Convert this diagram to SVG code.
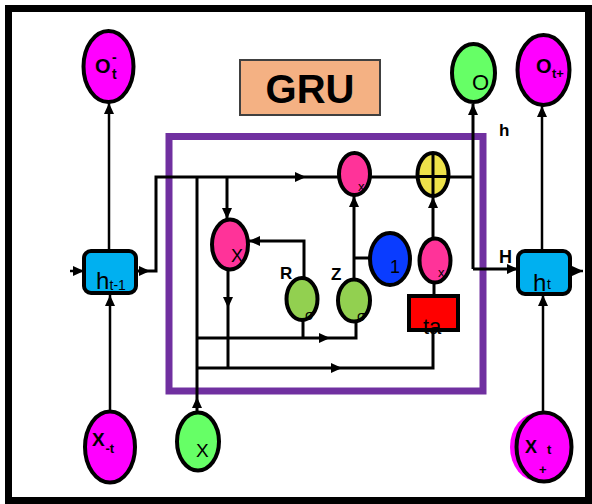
<svg xmlns="http://www.w3.org/2000/svg" width="592" height="504" viewBox="0 0 592 504">
<defs>
<marker id="ar" markerUnits="userSpaceOnUse" markerWidth="11" markerHeight="10" refX="11" refY="5" orient="auto">
<path d="M0,0 L11,5 L0,10 Z" fill="#000"/>
</marker>
<path id="ah" d="M0,0 L-11,-5 L-11,5 Z" fill="#000"/>
<style>
.ln{fill:none;stroke:#000;stroke-width:3}
.lo{fill:none;stroke:#000;stroke-width:2.5}
.nd{stroke:#000;stroke-width:4}
.t{font-family:"Liberation Sans",Arial,sans-serif;fill:#000}
.b{font-weight:bold}
</style>
</defs>
<rect x="0" y="0" width="592" height="504" fill="#fff"/>
<rect x="8.5" y="8.5" width="580" height="492" fill="#fff" stroke="#000" stroke-width="7"/>
<rect x="169" y="136.5" width="314" height="254.5" fill="none" stroke="#7030A0" stroke-width="7"/>
<g id="gru-title">
<rect x="240" y="60" width="140" height="55" fill="#F4B183" stroke="#404040" stroke-width="2"/>
<text class="t b" x="310" y="103" font-size="40" text-anchor="middle">GRU</text>
</g>
<g id="connectors">
<path class="lo" d="M109,251 V103" marker-end="url(#ar)"/>
<path class="lo" d="M110,411 V295" marker-end="url(#ar)"/>
<path class="lo" d="M70,271 H84" marker-end="url(#ar)"/>
<path class="ln" d="M136,271 H156 V177 H340"/>
<use href="#ah" transform="translate(150,271)"/>
<use href="#ah" transform="translate(306,177)"/>
<path class="ln" d="M370,177 H417"/>
<path class="ln" d="M448,177 H473"/>
<path class="ln" d="M473,269 V104" marker-end="url(#ar)"/>
<path class="ln" d="M473,269 H518" marker-end="url(#ar)"/>
<path class="lo" d="M570,271 H583" marker-end="url(#ar)"/>
<path class="lo" d="M542,250 V106" marker-end="url(#ar)"/>
<path class="lo" d="M543,413 V295" marker-end="url(#ar)"/>
<path class="ln" d="M197,413 V177"/>
<use href="#ah" transform="translate(197,397) rotate(-90)"/>
<path class="ln" d="M227,177 V219" marker-end="url(#ar)"/>
<path class="ln" d="M304,278 V241 H249" marker-end="url(#ar)"/>
<path class="ln" d="M228,270 V368"/>
<use href="#ah" transform="translate(228,308) rotate(90)"/>
<path class="ln" d="M197,338 H356 V322"/>
<path class="ln" d="M303,320 V338"/>
<use href="#ah" transform="translate(330,338)"/>
<path class="ln" d="M197,368 H433 V330"/>
<use href="#ah" transform="translate(342,368)"/>
<path class="ln" d="M354,279 V196" marker-end="url(#ar)"/>
<path class="ln" d="M354,258 H370"/>
<path class="ln" d="M433,238 V197" marker-end="url(#ar)"/>
<path class="ln" d="M434,283 V296"/>
</g>
<g id="node-o-prev">
<ellipse class="nd" cx="108.5" cy="66.5" rx="25" ry="35.5" fill="#FF00FF"/>
<text class="t b" x="95" y="73" font-size="20">O</text>
<text class="t b" x="112" y="62" font-size="14">-</text>
<text class="t b" x="112" y="79" font-size="14">t</text>
</g>
<g id="node-o-green">
<ellipse class="nd" cx="473.5" cy="73" rx="21.5" ry="29" fill="#66FF66"/>
<text class="t" x="472" y="90" font-size="22">O</text>
</g>
<g id="node-o-next">
<ellipse class="nd" cx="543.5" cy="70" rx="26" ry="35" fill="#FF00FF"/>
<text class="t b" x="536" y="73" font-size="20">O</text>
<text class="t b" x="552" y="78" font-size="13">t+</text>
</g>
<g id="node-h-prev">
<rect class="nd" x="84" y="251" width="52" height="42" rx="7" fill="#00B0F0"/>
<text class="t" x="96" y="289" font-size="24">h</text>
<text class="t" x="109.5" y="290" font-size="14">t-1</text>
</g>
<g id="node-h-t">
<rect class="nd" x="518" y="251" width="52" height="43" rx="7" fill="#00B0F0"/>
<text class="t" x="533" y="291" font-size="24">h</text>
<text class="t" x="547" y="289" font-size="14">t</text>
</g>
<g id="node-x-prev">
<ellipse class="nd" cx="110" cy="447" rx="25" ry="35.5" fill="#FF00FF"/>
<text class="t b" x="92" y="446" font-size="19">X</text>
<text class="t b" x="105.5" y="453" font-size="13">-t</text>
</g>
<g id="node-x-green">
<ellipse class="nd" cx="198" cy="441.5" rx="21" ry="29" fill="#66FF66"/>
<text class="t" x="196" y="457" font-size="19">X</text>
</g>
<g id="node-x-next">
<ellipse cx="538" cy="447" rx="28" ry="34.5" fill="#FF00FF"/>
<ellipse class="nd" cx="544" cy="447" rx="27.5" ry="34.5" fill="#FF00FF"/>
<text class="t b" x="525" y="453" font-size="18">X</text>
<text class="t b" x="547" y="454" font-size="13">t</text>
<text class="t b" x="539" y="474" font-size="13">+</text>
</g>
<g id="node-mul-reset">
<ellipse class="nd" cx="230" cy="244.5" rx="18" ry="25" fill="#FF3399"/>
<text class="t" x="231" y="262" font-size="18">X</text>
</g>
<g id="node-mul-top">
<ellipse class="nd" cx="354.5" cy="174" rx="15.5" ry="21" fill="#FF3399"/>
<text class="t" x="358" y="191" font-size="13">x</text>
</g>
<g id="node-add">
<ellipse class="nd" cx="433" cy="174.5" rx="15.5" ry="21.5" fill="#EEE24A"/>
<path d="M433,153 V196 M417.5,176.5 H448.5" stroke="#000" stroke-width="3" fill="none"/>
</g>
<g id="node-one">
<ellipse class="nd" cx="390" cy="259" rx="20" ry="26" fill="#0A3CFF"/>
<text class="t" x="390" y="273" font-size="18" fill="#111">1</text>
</g>
<g id="node-mul-right">
<ellipse class="nd" cx="435" cy="260.5" rx="15.5" ry="22" fill="#FF3399"/>
<text class="t" x="438" y="277" font-size="13">x</text>
</g>
<g id="node-tanh">
<rect class="nd" x="409" y="296" width="49" height="34" fill="#FF0000"/>
<text class="t" x="423" y="334" font-size="22">ta</text>
</g>
<g id="node-r">
<ellipse class="nd" cx="302" cy="299" rx="15.5" ry="21" fill="#92D050"/>
<text class="t" x="305" y="320" font-size="14">σ</text>
<text class="t b" x="280" y="279" font-size="17">R</text>
</g>
<g id="node-z">
<ellipse class="nd" cx="354" cy="300.5" rx="16" ry="21" fill="#92D050"/>
<text class="t" x="357" y="321" font-size="14">σ</text>
<text class="t b" x="331" y="280" font-size="17">Z</text>
</g>
<g id="labels">
<text class="t b" x="499" y="263" font-size="18">H</text>
<text class="t b" x="499" y="136" font-size="17">h</text>
</g>
</svg>
